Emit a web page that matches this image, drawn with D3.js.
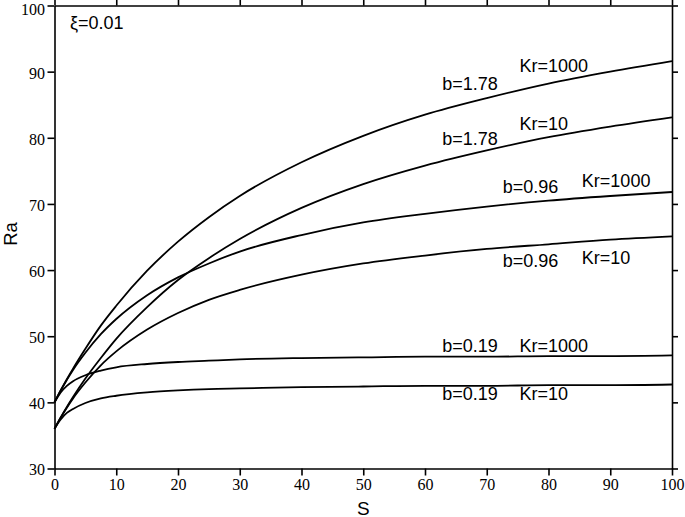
<!DOCTYPE html>
<html lang="en">
<head>
    <meta charset="UTF-8">
    <title>Ra vs S</title>
    <style>
        body { margin: 0; background: #fff; }
    </style>
</head>
<body>
    <script src="https://d3js.org/d3.v7.min.js"></script>
    <script>
        // Data
        let sValues = [0, 1, 2, 3, 5, 7.5, 10, 15, 20, 25, 30, 40, 50, 60, 70, 80, 90, 100];

        let b178Kr1000 = [40, 41.8, 43.5, 45.1, 48.1, 51.6, 54.6, 59.9, 64.3, 68.0, 71.2, 76.3, 80.3, 83.5, 86.0, 88.2, 90.0, 91.6];
        let b178Kr10   = [36, 37.7, 39.3, 40.8, 43.6, 46.7, 49.6, 54.4, 58.5, 61.8, 64.7, 69.4, 73.0, 75.8, 78.1, 80.1, 81.7, 83.1];
        let b096Kr1000 = [40, 41.8, 43.4, 44.9, 47.5, 50.3, 52.6, 56.2, 58.9, 61.0, 62.8, 65.3, 67.2, 68.5, 69.6, 70.5, 71.2, 71.8];
        let b096Kr10   = [36, 37.7, 39.2, 40.6, 43.0, 45.6, 47.7, 51.0, 53.5, 55.5, 57.0, 59.3, 61.0, 62.2, 63.2, 63.9, 64.6, 65.1];
        let b019Kr1000 = [40, 41.5, 42.5, 43.2, 44.1, 44.8, 45.3, 45.8, 46.1, 46.3, 46.5, 46.7, 46.8, 46.9, 46.9, 47.0, 47.0, 47.1];
        let b019Kr10   = [36, 37.4, 38.4, 39.0, 39.9, 40.6, 41.0, 41.5, 41.8, 42.0, 42.1, 42.3, 42.4, 42.5, 42.5, 42.6, 42.6, 42.7];

        let series = [b178Kr1000, b178Kr10, b096Kr1000, b096Kr10, b019Kr1000, b019Kr10];

        let xTicks = [0, 10, 20, 30, 40, 50, 60, 70, 80, 90, 100];
        let yTicks = [30, 40, 50, 60, 70, 80, 90, 100];

        // curve labels: text, S and Ra of the text start / baseline
        let labelText = ["b=1.78", "Kr=1000", "b=1.78", "Kr=10", "b=0.96", "Kr=1000", "b=0.96", "Kr=10", "b=0.19", "Kr=1000", "b=0.19", "Kr=10"];
        let labelS    = [62.8, 75.3, 62.8, 75.3, 72.6, 85.4, 72.6, 85.4, 62.8, 75.3, 62.8, 75.3];
        let labelRa   = [87.2, 90.0, 78.9, 81.2, 71.6, 72.6, 60.4, 60.9, 47.6, 47.6, 40.3, 40.3];

        // Margin, Width, and Height Setup
        let margin = {top: 5.5, right: 13, bottom: 48.5, left: 54.5},
            width = 685 - margin.left - margin.right,
            height = 517 - margin.top - margin.bottom;

        let svg = d3.select('body')
            .append('svg')
            .attr('width', 685)
            .attr('height', 517)
            .append('g')
            .attr('transform', 'translate(' + margin.left + ',' + margin.top + ')');

        let x = d3.scaleLinear().domain([0, 100]).range([0, width]);
        let y = d3.scaleLinear().domain([30, 100]).range([height, 0]);

        let serif = '"Liberation Serif", "Times New Roman", serif';
        let sans = '"Liberation Sans", Arial, sans-serif';

        // Axes
        let axBottom = svg.append('g')
            .attr('transform', 'translate(0,' + height + ')')
            .call(d3.axisBottom(x).tickValues(xTicks).tickSize(7).tickSizeOuter(0).tickPadding(3));
        let axLeft = svg.append('g')
            .call(d3.axisLeft(y).tickValues(yTicks).tickSize(7).tickSizeOuter(0).tickPadding(2.5));
        let axTop = svg.append('g')
            .call(d3.axisTop(x).tickValues(xTicks).tickSize(6).tickSizeOuter(0).tickFormat(''));
        let axRight = svg.append('g')
            .attr('transform', 'translate(' + width + ',0)')
            .call(d3.axisRight(y).tickValues(yTicks).tickSize(6).tickSizeOuter(0).tickFormat(''));

        [axBottom, axLeft, axTop, axRight].forEach(function(g) {
            g.selectAll('path, line').attr('stroke', '#000').attr('stroke-width', 1.6);
            g.selectAll('text').attr('fill', '#000').style('font-family', serif).style('font-size', '16px');
        });
        // y labels sit a little below their ticks; the top one is kept inside the page
        axLeft.selectAll('text').attr('dy', function(d) { return d === 100 ? '0.56em' : '0.4em'; });

        // Curves
        let line = d3.line()
            .x(function(d, i) { return x(sValues[i]); })
            .y(function(d) { return y(d); })
            .curve(d3.curveMonotoneX);

        svg.selectAll('.curve')
            .data(series)
            .enter()
            .append('path')
            .attr('class', 'curve')
            .attr('d', line)
            .attr('fill', 'none')
            .attr('stroke', '#000')
            .attr('stroke-width', 1.8);

        // Curve labels
        svg.selectAll('.lbl')
            .data(labelText)
            .enter()
            .append('text')
            .attr('class', 'lbl')
            .attr('x', function(d, i) { return x(labelS[i]); })
            .attr('y', function(d, i) { return y(labelRa[i]); })
            .text(function(d) { return d; })
            .style('font-family', sans)
            .style('font-size', '18px')
            .attr('fill', '#000');

        svg.append('text')
            .attr('x', x(2.5))
            .attr('y', y(96.4))
            .text('ξ=0.01')
            .style('font-family', sans)
            .style('font-size', '18px');

        // Axis titles
        svg.append('text')
            .attr('x', width / 2)
            .attr('y', height + 46)
            .attr('text-anchor', 'middle')
            .text('S')
            .style('font-family', sans)
            .style('font-size', '19px');

        svg.append('text')
            .attr('transform', 'translate(' + (-38) + ',' + (height / 2 - 3) + ') rotate(-90)')
            .attr('text-anchor', 'middle')
            .text('Ra')
            .style('font-family', sans)
            .style('font-size', '18.5px');
    </script>
</body>
</html>
